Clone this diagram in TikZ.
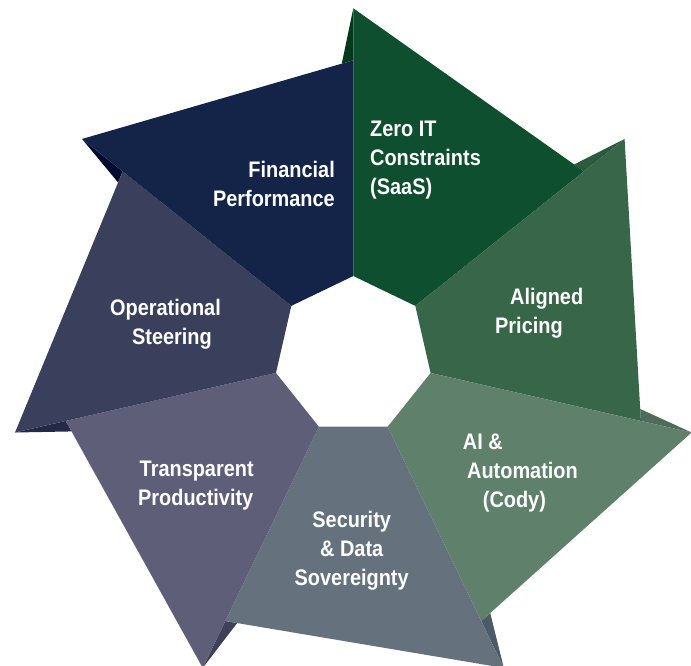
\documentclass[tikz,border=0pt]{standalone}
\usepackage{fontspec}
\setmainfont{Liberation Sans}[FakeStretch=0.885]
\usetikzlibrary{calc}

\definecolor{finNavy}{HTML}{132448}
\definecolor{zeroGreen}{HTML}{0E4F2F}
\definecolor{alignGreen}{HTML}{376648}
\definecolor{aiGreen}{HTML}{5F806A}
\definecolor{secGrey}{HTML}{65727D}
\definecolor{transPurple}{HTML}{5E5E79}
\definecolor{opNavy}{HTML}{3A3F5C}
\definecolor{finFold}{HTML}{030C2E}
\definecolor{zeroFold}{HTML}{02391B}
\definecolor{alignFold}{HTML}{2C5A3D}
\definecolor{aiFold}{HTML}{4F6C5A}
\definecolor{secFold}{HTML}{4C5966}
\definecolor{transFold}{HTML}{3F4159}
\definecolor{opFold}{HTML}{242947}

\tikzset{
  petaltext/.style={text=white, inner sep=0pt,
    font=\bfseries\fontsize{22.5}{29}\selectfont}
}

\begin{document}
\begin{tikzpicture}[x=1pt, y=1pt]
    \useasboundingbox (-353.3, -309.7) rectangle (337.7, 355.3);
    % corners of the hole in the middle
    \coordinate (V0) at (90:79.3);
    \coordinate (V1) at (38.571:79.3);
    \coordinate (V2) at (-12.857:79.3);
    \coordinate (V3) at (-64.286:79.3);
    \coordinate (V4) at (-115.714:79.3);
    \coordinate (V5) at (-167.143:79.3);
    \coordinate (V6) at (141.429:79.3);
    % long outer points
    \coordinate (O0) at (90:347);
    \coordinate (O1) at (38.571:347);
    \coordinate (O2) at (-12.857:347);
    \coordinate (O3) at (-64.286:347);
    \coordinate (O4) at (-115.714:347);
    \coordinate (O5) at (-167.143:347);
    \coordinate (O6) at (141.429:347);
    % short outer points
    \coordinate (Q0) at (38.571:295);
    \coordinate (Q1) at (-12.857:295);
    \coordinate (Q2) at (-64.286:295);
    \coordinate (Q3) at (-115.714:295);
    \coordinate (Q4) at (-167.143:295);
    \coordinate (Q5) at (141.429:295);
    \coordinate (Q6) at (90:295);
    % folds behind the tips
    \fill[zeroFold] (O0) -- (Q6) -- ($(Q6)!12pt!(O6)$) -- cycle;
    \fill[alignFold] (O1) -- (Q0) -- ($(Q0)!12pt!(O0)$) -- cycle;
    \fill[aiFold] (O2) -- (Q1) -- ($(Q1)!12pt!(O1)$) -- cycle;
    \fill[secFold] (O3) -- (Q2) -- ($(Q2)!12pt!(O2)$) -- cycle;
    \fill[transFold] (O4) -- (Q3) -- ($(Q3)!12pt!(O3)$) -- cycle;
    \fill[opFold] (O5) -- (Q4) -- ($(Q4)!12pt!(O4)$) -- cycle;
    \fill[finFold] (O6) -- (Q5) -- ($(Q5)!12pt!(O5)$) -- cycle;
    % the seven petals
    \fill[zeroGreen] (V0) -- (O0) -- (Q0) -- (V1) -- cycle;
    \fill[alignGreen] (V1) -- (O1) -- (Q1) -- (V2) -- cycle;
    \fill[aiGreen] (V2) -- (O2) -- (Q2) -- (V3) -- cycle;
    \fill[secGrey] (V3) -- (O3) -- (Q3) -- (V4) -- cycle;
    \fill[transPurple] (V4) -- (O4) -- (Q4) -- (V5) -- cycle;
    \fill[opNavy] (V5) -- (O5) -- (Q5) -- (V6) -- cycle;
    \fill[finNavy] (V6) -- (O6) -- (Q6) -- (V0) -- cycle;
    % texts
    \node[petaltext, anchor=north west, align=left] (zero) at (16.7, 234)
         {Zero IT\\Constraints\\(SaaS)};
    \node[petaltext, anchor=north west, align=left] (pricing) at (141.7, 67.4)
         {\hspace*{15pt}Aligned\\Pricing};
    \node[petaltext, anchor=north west, align=left] (cody) at (109.4, -78.3)
         {AI \&\\\hspace*{4.3pt}Automation\\\hspace*{20pt}(Cody)};
    \node[petaltext, anchor=north, align=center] (security) at (-1.6, -156)
         {Security\\\& Data\\Sovereignty};
    \node[petaltext, anchor=north west, align=left] (productivity) at (-215.3, -106)
         {\hspace*{1.5pt}Transparent\\Productivity};
    \node[petaltext, anchor=north, align=center] (steering) at (-187.8, 56.4)
         {Operational\\\hspace*{13pt}Steering};
    \node[petaltext, anchor=north east, align=right] (finance) at (-18.3, 194.4)
         {Financial\\Performance};
\end{tikzpicture}
\end{document}
